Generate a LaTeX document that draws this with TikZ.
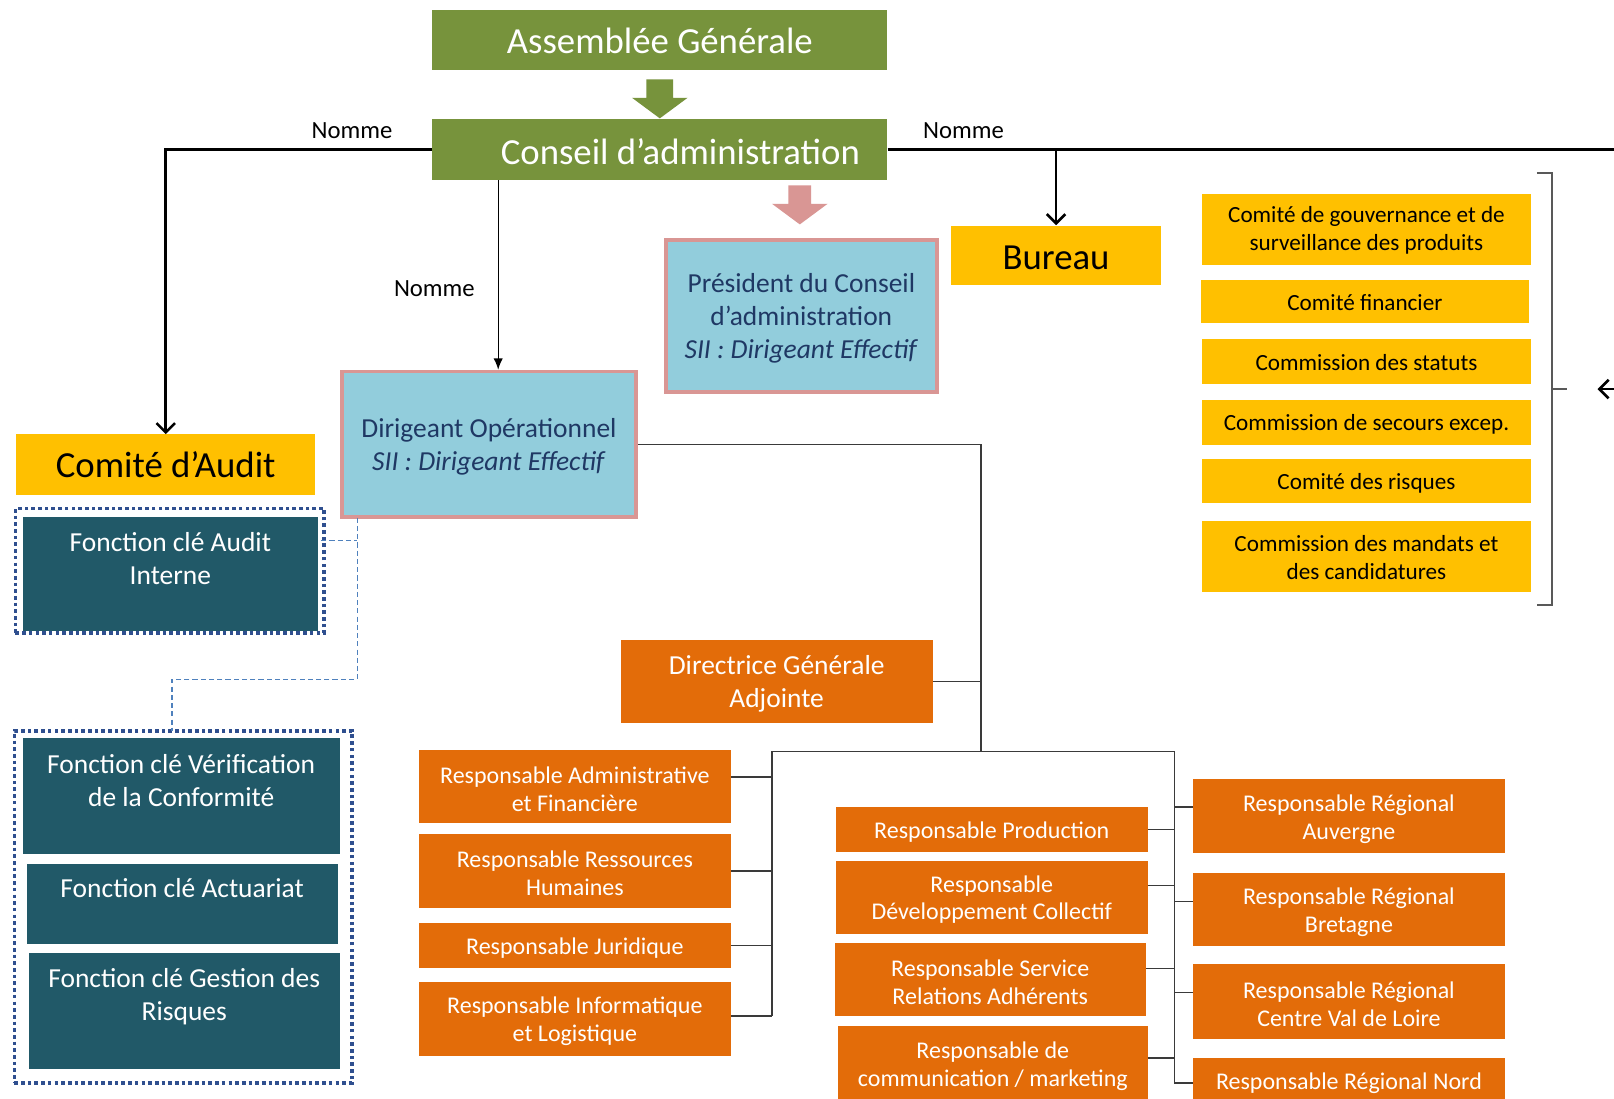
\documentclass[tikz,border=0pt]{standalone}
\usepackage{fontspec}
\setmainfont{Carlito}
\usetikzlibrary{arrows.meta,calc}
\definecolor{cgreen}{HTML}{77933C}
\definecolor{cyel}{HTML}{FFC000}
\definecolor{corange}{HTML}{E36C09}
\definecolor{cteal}{HTML}{215968}
\definecolor{cblue}{HTML}{92CDDC}
\definecolor{cpink}{HTML}{D99694}
\definecolor{cnavy}{HTML}{1F3864}
\definecolor{cdot}{HTML}{2F4F8F}
\definecolor{cdash}{HTML}{4F81BD}
\definecolor{cline}{HTML}{3A3A3A}
\definecolor{cbrack}{HTML}{595959}
\newcommand\fbig{\fontsize{35.7}{40}\selectfont}
\newcommand\fmid{\fontsize{26.7}{32}\selectfont}
\newcommand\fsml{\fontsize{22.5}{27}\selectfont}
\newcommand\fora{\fontsize{23.3}{27}\selectfont}
% box node (empty) + text node slightly lowered
\newcommand\BOX[8]{\node[#1, minimum width={#5-#3}, minimum height={#6-#4}] (#2) at ({(#3+#5)/2},{(#4+#6)/2}) {};
  \node[#1, fill=none, draw=none, minimum size=0pt] (#2t) at ([yshift=#8]#2.center) {#7};}
\begin{document}
\begin{tikzpicture}[x=1pt,y=-1pt,
  gbox/.style={fill=cgreen,text=white,font=\fbig,inner sep=0,align=center},
  ybox/.style={fill=cyel,text=black,font=\fsml,inner sep=0,align=center},
  obox/.style={fill=corange,text=white,font=\fora,inner sep=0,align=center},
  tbox/.style={fill=cteal,inner sep=0},
  ttxt/.style={text=white,font=\fmid,inner sep=0,align=center},
  bbox/.style={fill=cblue,draw=cpink,line width=3.5pt,text=cnavy,font=\fmid,inner sep=0,align=center},
  dotbox/.style={draw=cdot,line width=3.5pt,dash pattern=on 3.5pt off 3pt,inner sep=0},
  conn/.style={draw=cline,line width=1.4pt},
  mainln/.style={draw=black,line width=2.5pt},
  lbl/.style={font=\fontsize{24}{28}\selectfont,inner sep=0},
  dashln/.style={draw=cdash,line width=1.3pt,dash pattern=on 5pt off 3pt}]
\useasboundingbox (0,0) rectangle (1568,1067);
\clip (0,0) rectangle (1568,1067);
\fill[white] (0,0) rectangle (1568,1067);

% top
\BOX{gbox}{ag}{420}{10}{862}{68}{Assemblée Générale}{-1pt}
\node[gbox, minimum width=442, minimum height=59] (conseil) at (641,145.5) {};
\node[text=white,font=\fbig,inner sep=0] (conseilt) at ([xshift=20pt,yshift=-1.5pt]conseil.center) {Conseil d’administration};
\fill[cgreen] (628,77) -- (654,77) -- (654,95) -- (668,95) -- (641,115) -- (614,95) -- (628,95) -- cycle;
\fill[cpink] (766,180) -- (788,180) -- (788,198) -- (804,198) -- (777,218) -- (750,198) -- (766,198) -- cycle;

\BOX{bbox}{pres}{647}{233}{910}{381}{Président du Conseil\\d’administration\\\textit{SII : Dirigeant Effectif}}{-2.5pt}
\BOX{ybox,font=\fbig}{bureau}{924}{220}{1128}{277}{Bureau}{-2pt}

% committees
\BOX{ybox}{c1}{1168}{188}{1487}{257}{Comité de gouvernance et de\\surveillance des produits}{-1.5pt}
\BOX{ybox}{c2}{1167}{272}{1485}{314}{Comité financier}{-1pt}
\BOX{ybox}{c3}{1168}{329}{1487}{373}{Commission des statuts}{-1pt}
\BOX{ybox}{c4}{1168}{389}{1487}{432}{Commission de secours excep.}{-2pt}
\BOX{ybox}{c5}{1168}{446}{1487}{489}{Comité des risques}{-2pt}
\BOX{ybox}{c6}{1168}{506}{1487}{575}{Commission des mandats et\\des candidatures}{-1pt}
\draw[cbrack,line width=1.8pt] (1493,168) -- (1508,168) -- (1508,588) -- (1493,588);
\coordinate (tick1) at (1508,378);
\coordinate (tick2) at (1522,378);
\draw[cbrack,line width=1.8pt] (tick1) -- (tick2);
\coordinate (farR) at (1568,378);
\coordinate (farL) at (1552,378);
\draw[mainln,-{Straight Barb[length=9pt,width=18pt]}] (farR) -- (farL);

% left
\BOX{ybox,font=\fbig}{caudit}{16}{422}{306}{481}{Comité d’Audit}{0pt}
\node[dotbox, minimum width=300, minimum height=121] (gaudit) at (165,554.5) {};
\node[tbox, minimum width=287, minimum height=111] (faudit) at (165.5,557.5) {};
\node[ttxt] (fauditt) at ([yshift=15pt]faudit.center) {Fonction clé Audit\\Interne};
\node[dotbox, minimum width=328, minimum height=342] (glow) at (178,881) {};
\node[tbox, minimum width=308, minimum height=113] (fverif) at (176,773.5) {};
\node[ttxt] (fverift) at ([yshift=15.5pt]fverif.center) {Fonction clé Vérification\\de la Conformité};
\node[tbox, minimum width=302, minimum height=78] (factu) at (177,878) {};
\node[ttxt] (factut) at ([yshift=15pt]factu.center) {Fonction clé Actuariat};
\node[tbox, minimum width=302, minimum height=113] (fgest) at (179,982.5) {};
\node[ttxt] (fgestt) at ([yshift=14.5pt]fgest.center) {Fonction clé Gestion des\\Risques};

\BOX{bbox}{dop}{332}{361}{618}{502}{Dirigeant Opérationnel\\\textit{SII : Dirigeant Effectif}}{-2.5pt}
\BOX{obox,font=\fmid}{dga}{603}{622}{906}{702}{Directrice Générale\\Adjointe}{-2.5pt}

% orange columns
\BOX{obox}{raf}{407}{729}{710}{800}{Responsable Administrative\\et Financière}{-2.5pt}
\BOX{obox}{rrh}{407}{810}{710}{882}{Responsable Ressources\\Humaines}{-2.5pt}
\BOX{obox}{rjur}{407}{897}{710}{940}{Responsable Juridique}{-2.5pt}
\BOX{obox}{rinfo}{407}{954}{710}{1026}{Responsable Informatique\\et Logistique}{-2.5pt}
\BOX{obox}{rprod}{812}{784}{1115}{828}{Responsable Production}{-2.5pt}
\BOX{obox}{rdev}{812}{836}{1115}{907}{Responsable\\Développement Collectif}{-2.5pt}
\BOX{obox}{rserv}{811}{916}{1113}{987}{Responsable Service\\Relations Adhérents}{-2.5pt}
\BOX{obox}{rcom}{814}{997}{1115}{1070}{Responsable de\\communication / marketing}{-2.5pt}
\BOX{obox}{rauv}{1159}{757}{1462}{829}{Responsable Régional\\Auvergne}{-2.5pt}
\BOX{obox}{rbre}{1159}{848}{1462}{919}{Responsable Régional\\Bretagne}{-2.5pt}
\BOX{obox}{rcen}{1159}{937}{1462}{1009}{Responsable Régional\\Centre Val de Loire}{-2.5pt}
\BOX{obox}{rnord}{1159}{1028}{1462}{1072}{Responsable Régional Nord}{-2.5pt}

% labels
\node[lbl] (n1) at (342,127) {Nomme};
\node[lbl] (n2) at (936,127) {Nomme};
\node[lbl] (n3) at (422,280) {Nomme};

% main connectors
\draw[mainln,-{Straight Barb[length=9pt,width=18pt]}] (conseil.west) -| (caudit.north);
\coordinate (rend) at (1568,145.5);
\draw[mainln] (conseil.east) -- (rend);
\coordinate (bj) at (bureau.north |- conseil.east);
\draw[mainln,-{Straight Barb[length=9pt,width=18pt]}] (bj) -- ([yshift=1pt]bureau.north);
\coordinate (cs) at (484,175);
\draw[black,line width=1.3pt,-{Latex[length=11pt,width=9pt]}] (cs) -- (cs |- dop.north);

% organisation connectors
\coordinate (vx) at (953,432);
\coordinate (vb) at (953,730);
\coordinate (lb) at (750,730);
\coordinate (rb) at (1141,730);
\draw[conn] (dop.east |- vx) -- (vx) -- (vb);
\draw[conn] (dga.east) -- (dga.east -| vx);
\draw[conn] (lb) -- (rb);
\coordinate (lbe) at (750,987);
\coordinate (rbe) at (1141,1052);
\draw[conn] (lb) -- (lbe);
\draw[conn] (rb) -- (rbe);
\draw[conn] ([yshift=9.5pt]raf.east) -- ([yshift=9.5pt]raf.east -| lb);
\draw[conn] (rrh.east) -- (rrh.east -| lb);
\draw[conn] (rjur.east) -- (rjur.east -| lb);
\draw[conn] ([yshift=3pt]rinfo.east) -- ([yshift=3pt]rinfo.east -| lb);
\draw[conn] (rprod.east) -- (rprod.east -| rb);
\draw[conn] ([yshift=11.5pt]rdev.east) -- ([yshift=11.5pt]rdev.east -| rb);
\draw[conn] ([yshift=10.5pt]rserv.east) -- ([yshift=10.5pt]rserv.east -| rb);
\draw[conn] ([yshift=5.5pt]rcom.east) -- ([yshift=5.5pt]rcom.east -| rb);
\draw[conn] ([yshift=9pt]rauv.west) -- ([yshift=9pt]rauv.west -| rb);
\draw[conn] ([yshift=7.5pt]rbre.west) -- ([yshift=7.5pt]rbre.west -| rb);
\draw[conn] ([yshift=9pt]rcen.west) -- ([yshift=9pt]rcen.west -| rb);
\draw[conn] ([yshift=-2pt]rnord.west) -- ([yshift=-2pt]rnord.west -| rb);

% dashed link
\coordinate (d0) at (312,525);
\coordinate (d1) at (347,525);
\coordinate (d2) at (347,503);
\coordinate (d3) at (347,660);
\coordinate (d4) at (167,660);
\coordinate (d5) at (167,710);
\draw[dashln] (d0) -- (d1);
\draw[dashln] (d2) -- (d3) -- (d4) -- (d5);
\end{tikzpicture}
\end{document}
